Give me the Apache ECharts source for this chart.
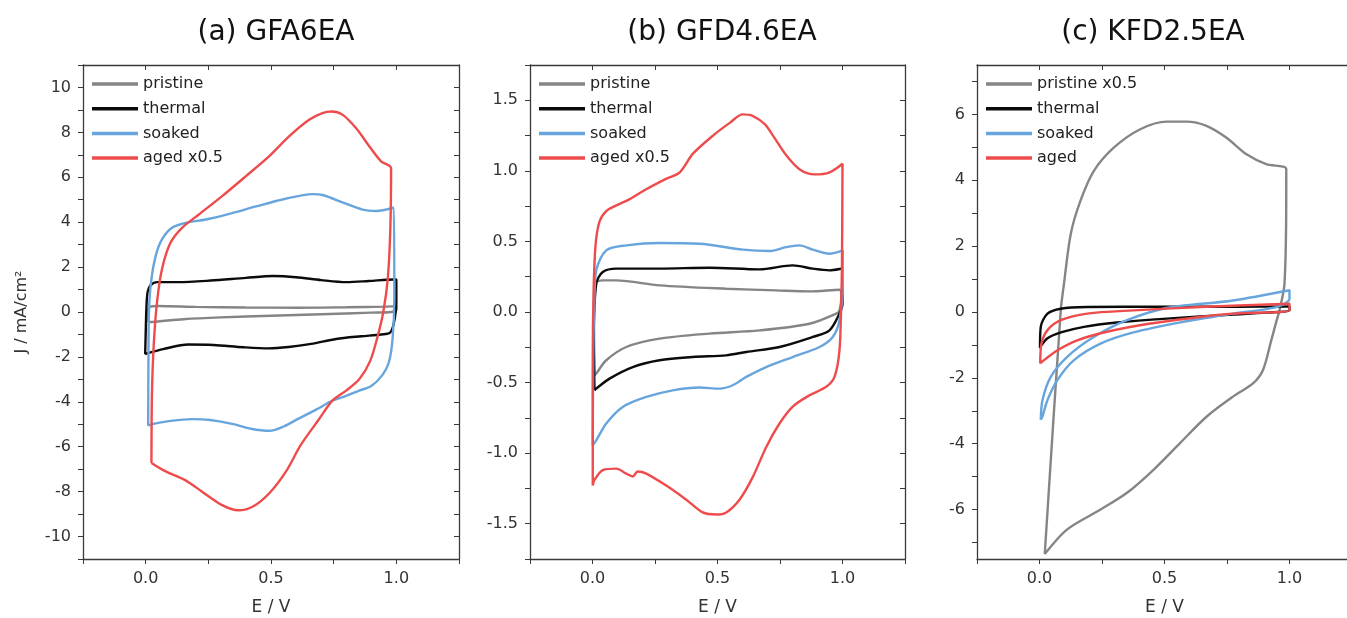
<!DOCTYPE html>
<html>
<head>
<meta charset="utf-8">
<script src="https://cdn.jsdelivr.net/npm/echarts@6/dist/echarts.min.js"></script>
<style>
  html, body { margin: 0; padding: 0; background: #fff; }
  #main { width: 1347px; height: 618px; }
</style>
</head>
<body>
<div id="main"></div>
<script>
// ---- data: [E / V, J / mA cm-2] ----
const aPristine = [[0.01,-0.45],[0.008,-0.1],[0.015,0.22],[0.05,0.27],[0.2,0.23],[0.4,0.2],[0.6,0.19],[0.8,0.21],[0.95,0.24],[1.0,0.26],[1.0,0.1],[0.98,0.0],[0.9,-0.03],[0.7,-0.1],[0.5,-0.17],[0.3,-0.24],[0.15,-0.32],[0.05,-0.42],[0.01,-0.45]]
const aThermal = [[-0.002,-1.88],[0.0,-1.0],[0.003,0.2],[0.008,0.9],[0.02,1.2],[0.045,1.33],[0.13,1.33],[0.26,1.4],[0.4,1.52],[0.51,1.6],[0.6,1.55],[0.7,1.42],[0.8,1.33],[0.89,1.38],[0.99,1.45],[1.0,1.45],[1.0,0.4],[0.99,-0.5],[0.975,-0.92],[0.94,-1.0],[0.86,-1.08],[0.76,-1.2],[0.66,-1.42],[0.57,-1.56],[0.49,-1.62],[0.39,-1.57],[0.27,-1.47],[0.17,-1.45],[0.07,-1.65],[0.012,-1.82],[-0.002,-1.88]]
const aSoaked = [[0.01,-5.07],[0.011,-2.3],[0.013,0.0],[0.022,1.4],[0.04,2.5],[0.065,3.23],[0.105,3.75],[0.16,3.97],[0.24,4.12],[0.33,4.36],[0.44,4.7],[0.55,5.02],[0.665,5.25],[0.71,5.2],[0.785,4.88],[0.865,4.56],[0.92,4.5],[0.99,4.65],[0.992,0.7],[0.985,-1.2],[0.97,-2.25],[0.945,-2.8],[0.9,-3.3],[0.852,-3.5],[0.8,-3.73],[0.745,-3.95],[0.68,-4.35],[0.61,-4.75],[0.55,-5.1],[0.495,-5.29],[0.42,-5.2],[0.345,-4.98],[0.25,-4.8],[0.185,-4.77],[0.1,-4.85],[0.025,-4.99],[0.01,-5.07]]
const aAged = [[0.023,-6.72],[0.025,-3.7],[0.032,-1.5],[0.045,0.41],[0.065,1.9],[0.099,3.08],[0.145,3.75],[0.212,4.34],[0.305,5.16],[0.399,6.04],[0.492,6.93],[0.572,7.82],[0.652,8.56],[0.705,8.86],[0.742,8.93],[0.785,8.79],[0.839,8.19],[0.892,7.38],[0.939,6.71],[0.979,6.41],[0.976,3.7],[0.966,1.5],[0.948,0.0],[0.925,-1.1],[0.895,-2.2],[0.852,-3.0],[0.8,-3.5],[0.745,-3.95],[0.69,-4.8],[0.62,-5.9],[0.56,-7.1],[0.495,-8.05],[0.43,-8.65],[0.37,-8.83],[0.305,-8.6],[0.225,-8.0],[0.159,-7.5],[0.08,-7.1],[0.023,-6.72]]

const bPristine = [[0.008,-0.448],[0.006,-0.1],[0.008,0.2],[0.041,0.224],[0.095,0.224],[0.268,0.189],[0.535,0.165],[0.735,0.153],[0.868,0.146],[0.988,0.158],[0.995,0.1],[0.988,0.012],[0.975,-0.011],[0.868,-0.083],[0.668,-0.13],[0.468,-0.153],[0.268,-0.189],[0.135,-0.248],[0.055,-0.342],[0.015,-0.436],[0.008,-0.448]]
const bThermal = [[0.008,-0.555],[0.005,-0.2],[0.015,0.2],[0.041,0.283],[0.095,0.307],[0.268,0.307],[0.468,0.314],[0.668,0.302],[0.801,0.33],[0.881,0.307],[0.948,0.295],[0.995,0.307],[1.0,0.06],[0.988,-0.011],[0.948,-0.13],[0.881,-0.177],[0.748,-0.248],[0.615,-0.283],[0.535,-0.307],[0.401,-0.319],[0.268,-0.342],[0.161,-0.39],[0.068,-0.472],[0.015,-0.543],[0.008,-0.555]]
const bSoaked = [[0.001,-0.944],[0.003,-0.3],[0.008,0.1],[0.015,0.295],[0.055,0.437],[0.135,0.472],[0.268,0.489],[0.428,0.484],[0.601,0.442],[0.708,0.432],[0.775,0.46],[0.828,0.472],[0.881,0.442],[0.948,0.413],[1.001,0.437],[1.001,0.2],[0.988,-0.059],[0.961,-0.177],[0.908,-0.248],[0.801,-0.319],[0.695,-0.39],[0.615,-0.46],[0.561,-0.519],[0.508,-0.543],[0.428,-0.535],[0.321,-0.555],[0.215,-0.602],[0.121,-0.673],[0.055,-0.79],[0.015,-0.909],[0.001,-0.944]]
const bAged = [[0.001,-1.23],[0.001,-0.35],[0.004,0.12],[0.012,0.47],[0.028,0.64],[0.055,0.715],[0.095,0.755],[0.149,0.8],[0.215,0.87],[0.29,0.94],[0.349,0.99],[0.401,1.12],[0.482,1.25],[0.549,1.34],[0.601,1.4],[0.64,1.39],[0.69,1.33],[0.722,1.25],[0.775,1.11],[0.829,1.01],[0.888,0.975],[0.949,0.99],[1.0,1.05],[0.998,0.35],[0.995,0.08],[0.988,-0.27],[0.968,-0.46],[0.935,-0.53],[0.868,-0.59],[0.801,-0.67],[0.748,-0.79],[0.695,-0.956],[0.641,-1.17],[0.588,-1.33],[0.535,-1.42],[0.495,-1.435],[0.441,-1.42],[0.375,-1.33],[0.295,-1.23],[0.215,-1.145],[0.181,-1.13],[0.161,-1.165],[0.135,-1.145],[0.095,-1.11],[0.041,-1.12],[0.008,-1.19],[0.001,-1.23]]

const cPristine = [[0.021,-7.35],[0.085,0.05],[0.098,0.86],[0.125,2.37],[0.164,3.38],[0.217,4.28],[0.297,4.99],[0.403,5.55],[0.509,5.78],[0.589,5.78],[0.668,5.65],[0.748,5.29],[0.828,4.79],[0.907,4.49],[0.987,4.34],[0.987,3.68],[0.98,0.86],[0.96,0.05],[0.947,-0.3],[0.927,-0.86],[0.894,-1.76],[0.854,-2.17],[0.774,-2.57],[0.668,-3.18],[0.562,-3.98],[0.456,-4.79],[0.35,-5.49],[0.244,-6.0],[0.111,-6.6],[0.021,-7.35]]
const cThermal = [[0.002,-1.1],[0.005,-0.45],[0.032,-0.05],[0.085,0.1],[0.19,0.15],[0.5,0.16],[0.8,0.16],[1.0,0.17],[1.0,0.05],[0.907,-0.02],[0.774,-0.08],[0.509,-0.2],[0.31,-0.32],[0.178,-0.45],[0.085,-0.62],[0.032,-0.8],[0.003,-1.06],[0.002,-1.1]]
const cSoaked = [[0.005,-3.27],[0.012,-2.67],[0.045,-1.97],[0.111,-1.36],[0.217,-0.76],[0.35,-0.25],[0.509,0.12],[0.774,0.35],[1.0,0.66],[1.0,0.4],[0.947,0.15],[0.774,-0.05],[0.575,-0.3],[0.376,-0.62],[0.244,-0.96],[0.138,-1.46],[0.072,-2.06],[0.032,-2.67],[0.012,-3.17],[0.005,-3.27]]
const cAged = [[0.003,-1.56],[0.008,-0.96],[0.032,-0.55],[0.085,-0.25],[0.191,-0.05],[0.376,0.05],[0.642,0.15],[1.0,0.25],[1.0,0.05],[0.774,-0.05],[0.642,-0.15],[0.443,-0.35],[0.27,-0.6],[0.151,-0.86],[0.072,-1.16],[0.018,-1.46],[0.003,-1.56]]

// ---- titles, legends, ticks ----
const panelTitles = ['(a) GFA6EA', '(b) GFD4.6EA', '(c) KFD2.5EA']
const legendAB = ['pristine', 'thermal', 'soaked', 'aged x0.5']
const legendC = ['pristine x0.5', 'thermal', 'soaked', 'aged']

const xTicks = [-0.25, 0, 0.25, 0.5, 0.75, 1, 1.25]
const xLabels = [0, 0.5, 1]
const aYTicks = [-11, -10, -9, -8, -7, -6, -5, -4, -3, -2, -1, 0, 1, 2, 3, 4, 5, 6, 7, 8, 9, 10, 11]
const aYLabels = [-10, -8, -6, -4, -2, 0, 2, 4, 6, 8, 10]
const bYTicks = [-1.75, -1.5, -1.25, -1, -0.75, -0.5, -0.25, 0, 0.25, 0.5, 0.75, 1, 1.25, 1.5, 1.75]
const bYLabels = [-1.5, -1, -0.5, 0, 0.5, 1, 1.5]
const cYTicks = [-7, -6, -5, -4, -3, -2, -1, 0, 1, 2, 3, 4, 5, 6, 7]
const cYLabels = [-6, -4, -2, 0, 2, 4, 6]

const colors = { gray: '#858585', black: '#0b0b0b', blue: '#67a5dc', red: '#ee4c4c' }
const axisColor = '#3a3a3a'
// the original lettering is a bit wider than Arial, DejaVu Sans is closer
const font = 'DejaVu Sans, Liberation Sans, sans-serif'

// outerBoundsMode off: panel (c) runs a few px past the right edge, like the original
const grids = [
  { left: 83, top: 65, width: 376, height: 494, outerBoundsMode: 'none' },
  { left: 530, top: 65, width: 375, height: 494, outerBoundsMode: 'none' },
  { left: 977, top: 65, width: 375, height: 494, outerBoundsMode: 'none' }
]

var xAxes = []
var yAxes = []

function addAxes (g, yMin, yMax, yTicks, yLabels, yFmt, yName) {
  var line = { show: true, onZero: false, lineStyle: { color: axisColor, width: 1.3 } }
  // bottom x
  xAxes.push({
    type: 'value', gridIndex: g, min: -0.25, max: 1.25, position: 'bottom',
    axisLine: line, splitLine: { show: false },
    axisTick: { show: true, inside: false, length: 5, customValues: xTicks, lineStyle: { color: axisColor } },
    axisLabel: { show: true, customValues: xLabels, margin: 12, color: '#333', fontSize: 16, fontFamily: font,
      formatter: function (v) { return v.toFixed(1) } },
    name: 'E / V', nameLocation: 'middle', nameGap: 40,
    nameTextStyle: { color: '#333', fontSize: 17, fontFamily: font }
  })
  // top mirror
  xAxes.push({
    type: 'value', gridIndex: g, min: -0.25, max: 1.25, position: 'top',
    axisLine: line, splitLine: { show: false },
    axisTick: { show: true, inside: true, length: 5, customValues: xTicks, lineStyle: { color: axisColor } },
    axisLabel: { show: false }
  })
  var left = {
    type: 'value', gridIndex: g, min: yMin, max: yMax, position: 'left',
    axisLine: line, splitLine: { show: false },
    axisTick: { show: true, inside: false, length: 5, customValues: yTicks, lineStyle: { color: axisColor } },
    axisLabel: { show: true, customValues: yLabels, margin: 12, color: '#333', fontSize: 16, fontFamily: font,
      formatter: yFmt }
  }
  if (yName) {
    left.name = yName
    left.nameLocation = 'middle'
    left.nameGap = 53
    left.nameTextStyle = { color: '#333', fontSize: 16, fontFamily: font }
  }
  yAxes.push(left)
  yAxes.push({
    type: 'value', gridIndex: g, min: yMin, max: yMax, position: 'right',
    axisLine: line, splitLine: { show: false },
    axisTick: { show: true, inside: true, length: 5, customValues: yTicks, lineStyle: { color: axisColor } },
    axisLabel: { show: false }
  })
}

addAxes(0, -11, 11, aYTicks, aYLabels, function (v) { return String(v) }, 'J / mA/cm²')
addAxes(1, -1.75, 1.75, bYTicks, bYLabels, function (v) { return v.toFixed(1) }, null)
addAxes(2, -7.5, 7.5, cYTicks, cYLabels, function (v) { return String(v) }, null)

function cv (name, g, data, color) {
  return {
    name: name, type: 'line', data: data,
    xAxisIndex: g * 2, yAxisIndex: g * 2,
    symbol: 'none', smooth: 0.3, clip: true,
    lineStyle: { color: color, width: 2.4 },
    itemStyle: { color: color }
  }
}

var series = [
  cv('pristine', 0, aPristine, colors.gray),
  cv('thermal', 0, aThermal, colors.black),
  cv('soaked', 0, aSoaked, colors.blue),
  cv('aged x0.5', 0, aAged, colors.red),
  cv('pristine', 1, bPristine, colors.gray),
  cv('thermal', 1, bThermal, colors.black),
  cv('soaked', 1, bSoaked, colors.blue),
  cv('aged x0.5', 1, bAged, colors.red),
  cv('pristine x0.5', 2, cPristine, colors.gray),
  cv('thermal', 2, cThermal, colors.black),
  cv('soaked', 2, cSoaked, colors.blue),
  cv('aged', 2, cAged, colors.red)
]

function legendAt (left, names) {
  return {
    left: left, top: 71, orient: 'vertical', data: names,
    icon: 'rect', itemWidth: 46, itemHeight: 3.5, itemGap: 8.7,
    textStyle: { color: '#222', fontSize: 16, lineHeight: 16, fontFamily: font },
    selectedMode: false
  }
}

var titles = [271, 717, 1148].map(function (x, i) {
  return {
    text: panelTitles[i], left: x, top: 14, textAlign: 'center',
    textStyle: { color: '#111', fontSize: 28, fontWeight: 'normal', fontFamily: font }
  }
})

var option = {
  animation: false,
  backgroundColor: '#fff',
  title: titles,
  legend: [legendAt(87, legendAB), legendAt(534, legendAB), legendAt(981, legendC)],
  grid: grids,
  xAxis: xAxes,
  yAxis: yAxes,
  series: series
}

var myChart = echarts.init(document.getElementById('main'))
myChart.setOption(option)
</script>
</body>
</html>
